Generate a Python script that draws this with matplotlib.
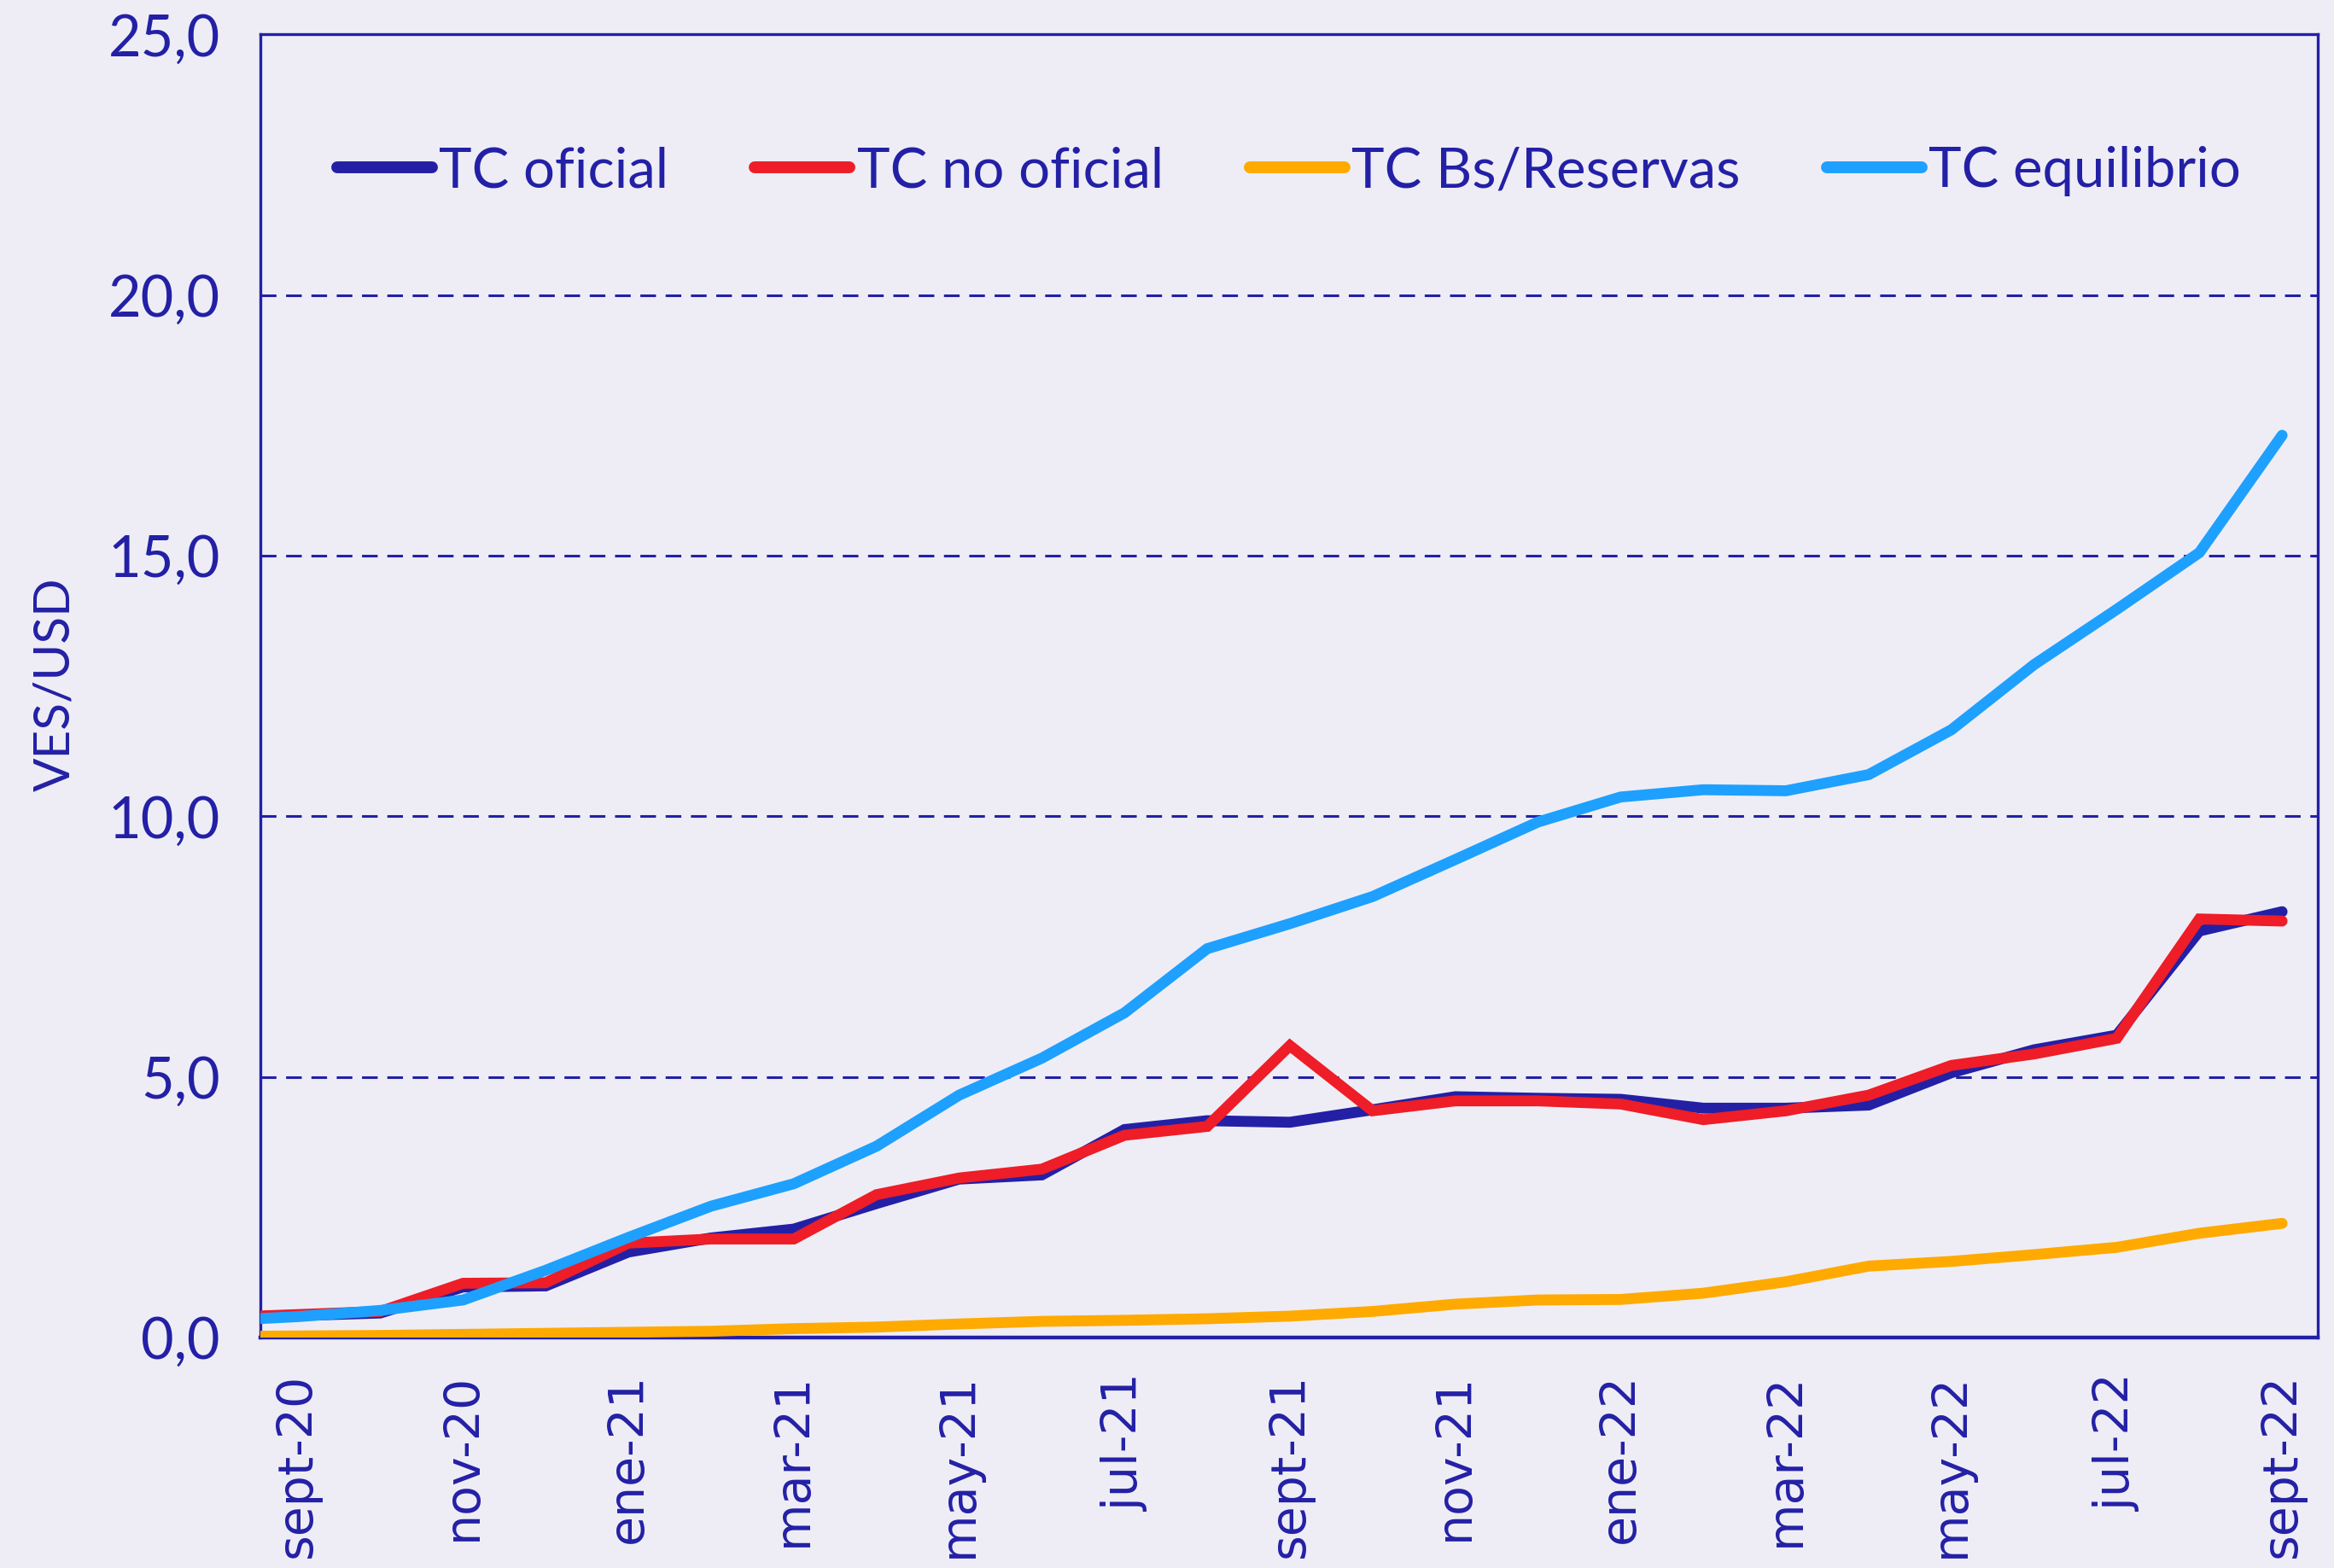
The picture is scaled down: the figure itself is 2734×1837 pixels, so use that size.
import matplotlib
matplotlib.use("Agg")
import matplotlib.pyplot as plt
import numpy as np

# Monthly categories (first point "ago-20" lies just left of the visible axis and is clipped)
months = ["ago-20", "sept-20", "oct-20", "nov-20", "dic-20", "ene-21", "feb-21", "mar-21",
          "abr-21", "may-21", "jun-21", "jul-21", "ago-21", "sept-21", "oct-21",
          "nov-21", "dic-21", "ene-22", "feb-22", "mar-22", "abr-22", "may-22",
          "jun-22", "jul-22", "ago-22", "sept-22"]

tc_oficial = [0.38, 0.42, 0.47, 0.97, 0.99, 1.64, 1.91, 2.08, 2.57, 3.04, 3.12,
              3.99, 4.16, 4.13, 4.37, 4.62, 4.59, 4.57, 4.40, 4.40, 4.46,
              5.08, 5.52, 5.80, 7.80, 8.17]
tc_no_oficial = [0.38, 0.44, 0.50, 1.04, 1.05, 1.81, 1.89, 1.89, 2.74, 3.06, 3.23,
                 3.88, 4.05, 5.60, 4.35, 4.54, 4.54, 4.48, 4.18, 4.35, 4.65,
                 5.22, 5.44, 5.74, 8.03, 7.99]
tc_bs_reservas = [0.02, 0.03, 0.04, 0.06, 0.08, 0.10, 0.12, 0.17, 0.20, 0.26, 0.31,
                  0.33, 0.36, 0.41, 0.50, 0.64, 0.72, 0.73, 0.85, 1.07, 1.37,
                  1.46, 1.59, 1.73, 2.00, 2.19]
tc_equilibrio = [0.32, 0.40, 0.52, 0.72, 1.29, 1.92, 2.52, 2.95, 3.67, 4.65, 5.36,
                 6.23, 7.46, 7.94, 8.46, 9.17, 9.89, 10.37, 10.51, 10.49, 10.80,
                 11.66, 12.91, 13.97, 15.06, 17.31]

tick_labels = ["sept-20", "nov-20", "ene-21", "mar-21", "may-21", "jul-21", "sept-21",
               "nov-21", "ene-22", "mar-22", "may-22", "jul-22", "sept-22"]
y_ticks = [0, 5, 10, 15, 20, 25]
y_tick_labels = ["0,0", "5,0", "10,0", "15,0", "20,0", "25,0"]

series_names = ["TC oficial", "TC no oficial", "TC Bs/Reservas", "TC equilibrio"]

NAVY = "#2320A6"
RED = "#EE1D27"
YELLOW = "#FFAA00"
LBLUE = "#1EA0FF"
BG = "#EEEDF6"

plt.rcParams["font.family"] = ["Lato", "DejaVu Sans"]

fig = plt.figure(figsize=(2734 / 200, 1837 / 200), dpi=200, facecolor=BG)
ax = fig.add_axes([0.1116, 0.147, 0.993 - 0.1116, 0.978 - 0.147], facecolor=BG)

x = np.arange(len(months)) - 1  # sept-20 at 0

lw = 4.6
for vals, col, name in [(tc_oficial, NAVY, series_names[0]),
                        (tc_no_oficial, RED, series_names[1]),
                        (tc_bs_reservas, YELLOW, series_names[2]),
                        (tc_equilibrio, LBLUE, series_names[3])]:
    ax.plot(x, vals, color=col, lw=lw, solid_capstyle="round",
            solid_joinstyle="miter", label=name, zorder=3)

ax.set_xlim(-0.45, 24.43)
ax.set_ylim(0, 25)

ax.set_yticks(y_ticks)
ax.set_yticklabels(y_tick_labels)
tick_pos = [months.index(t) - 1 for t in tick_labels]
ax.set_xticks(tick_pos)
ax.set_xticklabels(tick_labels)

ax.tick_params(axis="y", length=0, pad=17, labelsize=24, labelcolor=NAVY)
ax.tick_params(axis="x", length=0, pad=15, labelcolor=NAVY, labelrotation=90)
for lbl in ax.get_xticklabels():
    lbl.set_fontfamily("DejaVu Sans")
    lbl.set_fontsize(20.5)
    lbl.set_va("top")
    lbl.set_ha("center")

for g in [5, 10, 15, 20]:
    ax.axhline(g, color=NAVY, lw=1.1, dashes=(6, 3.7), zorder=1)

for s in ax.spines.values():
    s.set_color(NAVY)
    s.set_linewidth(1.2)
ax.spines["bottom"].set_linewidth(1.6)

ax.set_ylabel("VES/USD", color=NAVY, fontsize=21, va="center")
ax.yaxis.set_label_coords(0.0236, 0.5636, transform=fig.transFigure)

leg = ax.legend(loc="center", bbox_to_anchor=(0.5, 0.895), ncol=4, frameon=False,
                fontsize=23.5, handlelength=1.7, handletextpad=0.13,
                columnspacing=1.55, labelcolor=NAVY)
for h in leg.get_lines():
    h.set_linewidth(5)
    h.set_solid_capstyle("round")

fig.savefig("out.png", dpi=200, facecolor=BG)
